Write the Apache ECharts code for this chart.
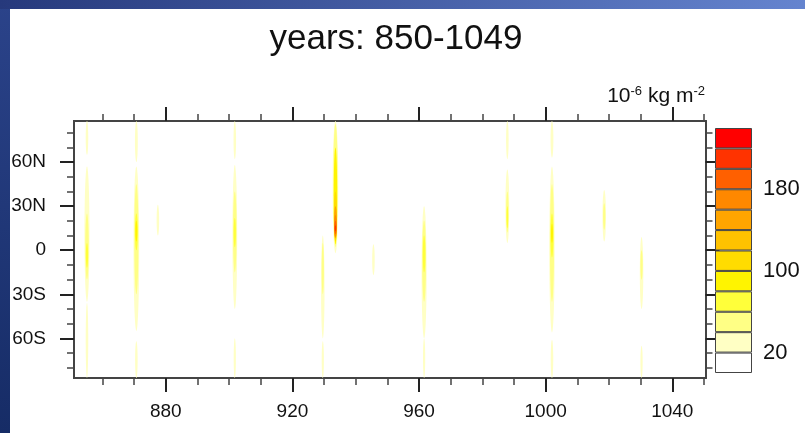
<!DOCTYPE html>
<html>
<head>
<meta charset="utf-8">
<title>years: 850-1049</title>
<script src="https://cdn.jsdelivr.net/npm/echarts@6/dist/echarts.min.js"></script>
<style>
  html, body { margin: 0; padding: 0; background: #fff; }
  #chart { width: 805px; height: 433px; }
</style>
</head>
<body>
<div id="chart"></div>
<script>
// contour levels (10^-6 kg m^-2), fill colours lowest first
const levels = [20, 40, 60, 80, 100, 120, 140, 160, 180, 200, 220]
const levelColors = ['#ffffff', '#ffffc4', '#ffff85', '#ffff3a', '#fff400', '#ffdc00', '#ffc200', '#ffa500', '#ff8800', '#ff6000', '#ff3300', '#ff0000']
const colorbarLabels = [20, 100, 180]

const xMajorTicks = [880, 920, 960, 1000, 1040]
const xMinorTicks = [860, 870, 880, 890, 900, 910, 920, 930, 940, 950, 960, 970, 980, 990, 1000, 1010, 1020, 1030, 1040, 1050]
const yMajorTicks = [-60, -30, 0, 30, 60]
const yMinorTicks = [-80, -70, -60, -50, -40, -30, -20, -10, 0, 10, 20, 30, 40, 50, 60, 70, 80]

// one row per contour patch: [year, lat north, lat south, value, duration in years]
const plume855 = [[855.1, 88, 65, 25, 0.8], [855.1, 57, -35, 30, 1.6], [855.1, 25, -20, 50, 1.1], [855.1, 5, -12, 65, 0.7], [855.1, -36, -87, 25, 0.8]]
const plume871 = [[870.7, 88, 60, 25, 0.9], [870.7, 57, -55, 30, 1.8], [870.7, 45, -30, 50, 1.3], [870.7, 25, 0, 75, 0.9], [870.7, 20, 6, 85, 0.6], [870.7, -62, -87, 25, 0.8]]
const plume877 = [[877.5, 31, 10, 25, 0.8]]
const plume902 = [[901.8, 88, 62, 25, 0.8], [901.8, 58, -40, 30, 1.5], [901.8, 40, -15, 50, 1.1], [901.8, 22, 2, 70, 0.7], [901.8, -60, -87, 25, 0.7]]
const plume930 = [[929.6, 10, -60, 30, 1.1], [929.6, 5, -30, 50, 0.7], [929.6, -62, -87, 25, 0.7]]
const plume934 = [[933.6, 88, -2, 30, 1.8], [933.6, 86, 2, 50, 1.4], [933.6, 70, 4, 80, 1.1], [933.6, 40, 6, 110, 1.0], [933.6, 30, 8, 140, 0.9], [933.6, 24, 9, 170, 0.75], [933.6, 20, 11, 190, 0.6], [933.6, 17, 13, 210, 0.4]]
const plume946 = [[945.6, 4, -17, 25, 0.8]]
const plume962 = [[961.6, 30, -60, 30, 1.6], [961.6, 20, -35, 50, 1.2], [961.6, 10, -15, 75, 0.8], [961.6, -60, -87, 25, 0.7]]
const plume988 = [[987.9, 88, 62, 25, 0.8], [987.9, 55, 5, 30, 1.2], [987.9, 40, 12, 50, 0.8], [987.9, 30, 15, 60, 0.5]]
const plume1002 = [[1002, 88, 63, 25, 0.9], [1002, 57, -56, 30, 1.7], [1002, 45, -35, 50, 1.3], [1002, 25, -5, 75, 0.9], [1002, 18, 5, 90, 0.6], [1002, -61, -87, 25, 0.8]]
const plume1018 = [[1018.5, 41, 6, 30, 1.1], [1018.5, 32, 14, 50, 0.7]]
const plume1030 = [[1030.3, 9, -40, 30, 1.1], [1030.3, 0, -20, 45, 0.7], [1030.3, -65, -87, 25, 0.7]]

const patches = [].concat(plume855, plume871, plume877, plume902, plume930, plume934,
  plume946, plume962, plume988, plume1002, plume1018, plume1030)
  .sort((a, b) => a[3] - b[3])

const axisColor = '#444'
const font = 'Liberation Sans, Helvetica, Arial, sans-serif'
const xMin = 851
const xMax = 1050.5
const yMin = -87
const yMax = 88

const pieces = levelColors.map((c, i) => {
  const p = { color: c }
  if (i > 0) p.gte = levels[i - 1]
  if (i < levels.length) p.lt = levels[i]
  return p
})

function latLabel(v) {
  if (v === 0) return '0'
  return v > 0 ? v + 'N' : (-v) + 'S'
}

function tickAxis(extra) {
  return Object.assign({
    gridIndex: 0,
    type: 'value',
    axisLine: { show: true, onZero: false, lineStyle: { color: axisColor, width: 2 }},
    axisLabel: { show: false },
    splitLine: { show: false }
  }, extra)
}

const xAxes = [
  tickAxis({ position: 'bottom', min: xMin, max: xMax,
    axisTick: { customValues: xMinorTicks, length: 7, lineStyle: { color: axisColor, width: 1.5 }}}),
  tickAxis({ position: 'bottom', min: xMin, max: xMax,
    axisTick: { customValues: xMajorTicks, length: 14, lineStyle: { color: '#222', width: 2 }},
    axisLabel: { show: true, customValues: xMajorTicks, formatter: v => String(v), margin: 24, fontSize: 19, color: '#111', fontFamily: font }}),
  tickAxis({ position: 'top', min: xMin, max: xMax,
    axisTick: { customValues: xMinorTicks, length: 7, lineStyle: { color: axisColor, width: 1.5 }}}),
  tickAxis({ position: 'top', min: xMin, max: xMax,
    axisTick: { customValues: xMajorTicks, length: 14, lineStyle: { color: '#222', width: 2 }}}),
  { gridIndex: 1, type: 'category', data: ['c'], show: false }
]

const yAxes = [
  tickAxis({ position: 'left', min: yMin, max: yMax,
    axisTick: { customValues: yMinorTicks, length: 7, lineStyle: { color: axisColor, width: 1.5 }}}),
  tickAxis({ position: 'left', min: yMin, max: yMax,
    axisTick: { customValues: yMajorTicks, length: 14, lineStyle: { color: '#222', width: 2 }},
    axisLabel: { show: true, customValues: yMajorTicks, formatter: latLabel, margin: 28, fontSize: 19, color: '#111', fontFamily: font }}),
  tickAxis({ position: 'right', min: yMin, max: yMax,
    axisTick: { customValues: yMinorTicks, length: 7, lineStyle: { color: axisColor, width: 1.5 }}}),
  tickAxis({ position: 'right', min: yMin, max: yMax,
    axisTick: { customValues: yMajorTicks, length: 14, lineStyle: { color: '#222', width: 2 }}}),
  {
    gridIndex: 1,
    type: 'value',
    position: 'right',
    min: 0,
    max: 20 * levelColors.length,
    interval: 20,
    axisLine: { show: false },
    axisTick: { show: false },
    splitLine: { show: false },
    axisLabel: {
      margin: 11,
      fontSize: 22,
      color: '#111',
      fontFamily: font,
      formatter: v => colorbarLabels.indexOf(v) >= 0 ? String(v) : ''
    }
  }
]

const colorbarSeries = levelColors.map(c => ({
  type: 'bar',
  xAxisIndex: 4,
  yAxisIndex: 4,
  stack: 'cb',
  barWidth: '100%',
  silent: true,
  data: [20],
  itemStyle: { color: c, borderColor: '#444', borderWidth: 1 }
}))

const chart = echarts.init(document.getElementById('chart'))

chart.setOption({
  animation: false,
  backgroundColor: '#fff',
  textStyle: { fontFamily: font },
  graphic: [
    {
      type: 'rect', left: 0, top: 0, z: 100,
      shape: { width: 10, height: 433 },
      style: { fill: new echarts.graphic.LinearGradient(0, 0, 0, 1, [
        { offset: 0, color: '#2b438a' }, { offset: 1, color: '#162c66' }]) }
    },
    {
      type: 'rect', left: 0, top: 0, z: 100,
      shape: { width: 805, height: 9 },
      style: { fill: new echarts.graphic.LinearGradient(0, 0, 1, 0, [
        { offset: 0, color: '#26397c' }, { offset: 1, color: '#6584cf' }]) }
    }
  ],
  title: [
    {
      text: 'years: 850-1049',
      left: 391,
      top: 17,
      textAlign: 'center',
      textStyle: { fontSize: 35, fontWeight: 'normal', color: '#111', fontFamily: font }
    },
    {
      text: '10{sup|-6} kg m{sup|-2}',
      right: 95,
      top: 80,
      textStyle: {
        fontSize: 21, fontWeight: 'normal', color: '#111', fontFamily: font,
        rich: { sup: { fontSize: 13, verticalAlign: 'top', padding: [0, 0, 9, 0] }}
      }
    }
  ],
  grid: [
    { left: 74, top: 121, right: 99.5, bottom: 55 },
    { left: 715, top: 128, width: 37, height: 245 }
  ],
  xAxis: xAxes,
  yAxis: yAxes,
  visualMap: {
    type: 'piecewise',
    show: false,
    seriesIndex: 0,
    dimension: 3,
    pieces: pieces
  },
  series: [
    {
      type: 'custom',
      xAxisIndex: 0,
      yAxisIndex: 0,
      clip: true,
      silent: true,
      data: patches,
      renderItem: function(params, api) {
        const north = api.coord([api.value(0), api.value(1)])
        const south = api.coord([api.value(0), api.value(2)])
        const w = api.size([api.value(4), 0])[0]
        return {
          type: 'ellipse',
          shape: {
            cx: north[0],
            cy: (north[1] + south[1]) / 2,
            rx: w / 2,
            ry: (south[1] - north[1]) / 2
          },
          style: { fill: api.visual('color') }
        }
      }
    }
  ].concat(colorbarSeries)
})
</script>
</body>
</html>
